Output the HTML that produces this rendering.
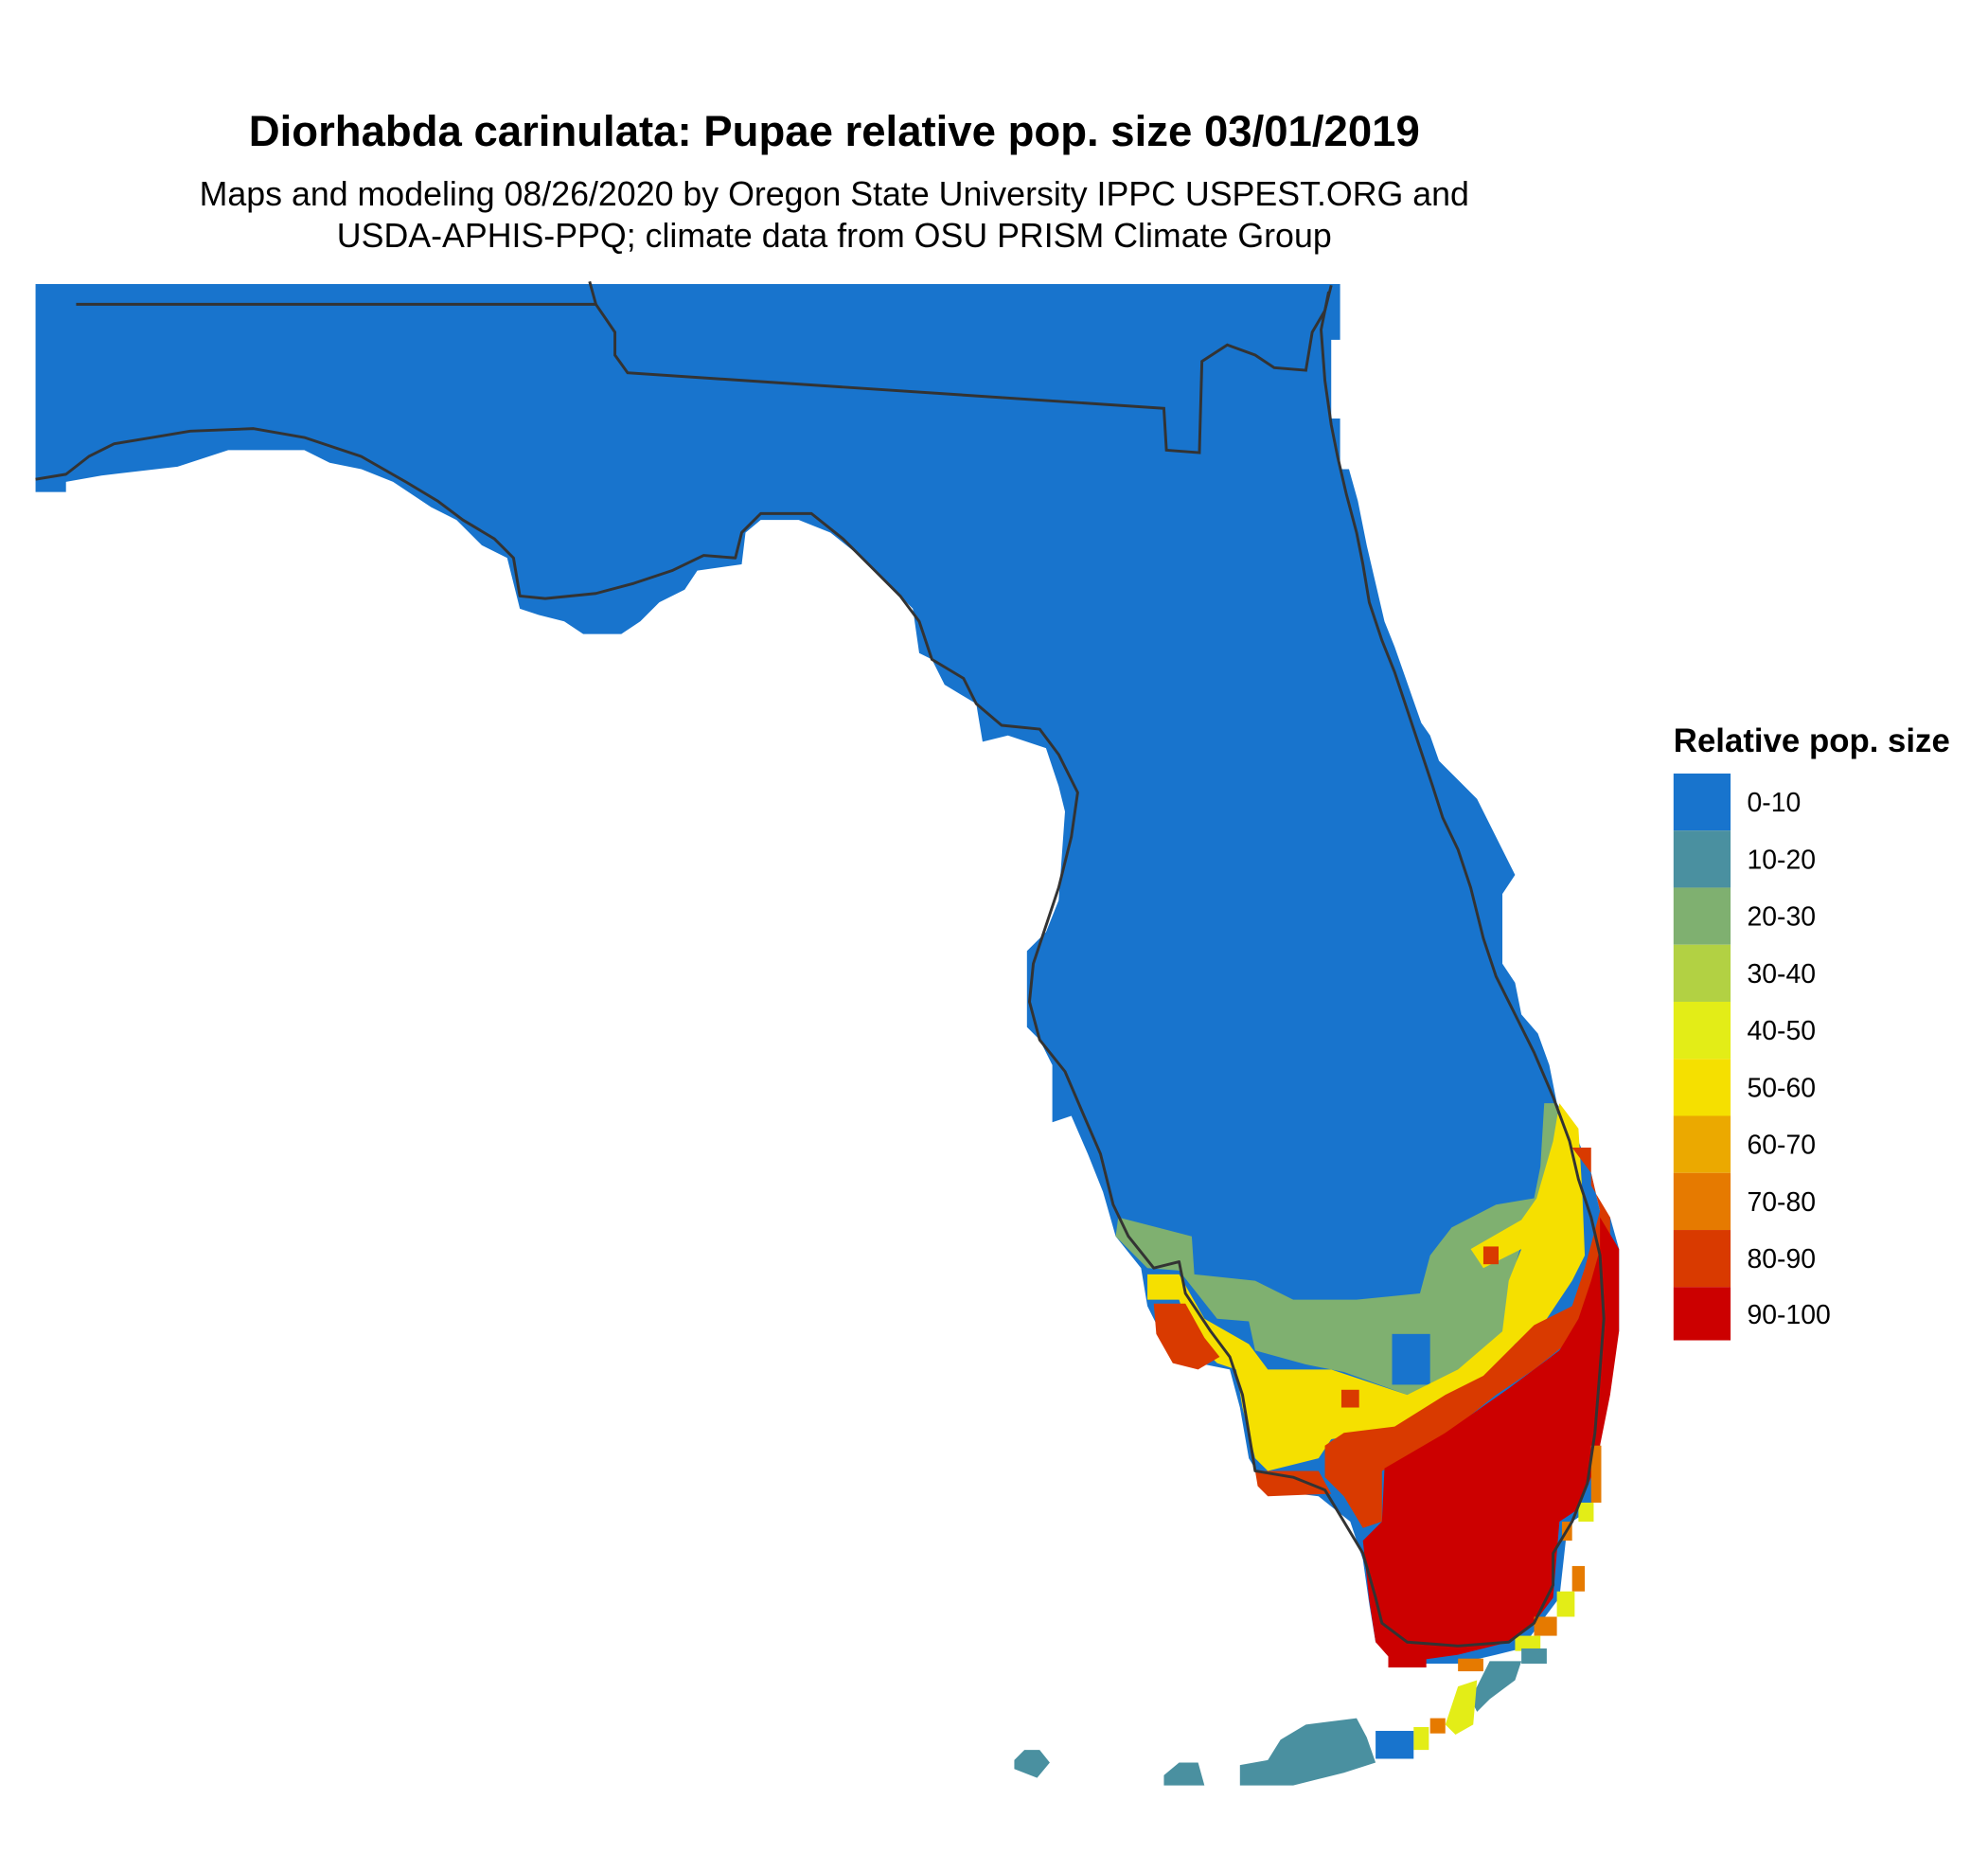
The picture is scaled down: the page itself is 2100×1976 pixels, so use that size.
<!DOCTYPE html>
<html><head><meta charset="utf-8"><style>
html,body{margin:0;padding:0;background:#fff;}
svg{display:block;}
text{font-family:"Liberation Sans",Arial,sans-serif;fill:#000;}
</style></head><body>
<svg width="2100" height="1976" viewBox="0 0 1568 1475.5" xmlns="http://www.w3.org/2000/svg">
<rect width="1568" height="1476" fill="#fff"/>
<text x="658" y="115" font-size="34" font-weight="bold" text-anchor="middle">Diorhabda carinulata: Pupae relative pop. size 03/01/2019</text>
<text x="658" y="162" font-size="26.7" text-anchor="middle">Maps and modeling 08/26/2020 by Oregon State University IPPC USPEST.ORG and</text>
<text x="658" y="195" font-size="26.7" text-anchor="middle">USDA-APHIS-PPQ; climate data from OSU PRISM Climate Group</text>

<polygon fill="#1874CD" points="28,224 1057,224 1057,268 1050,268 1050,330 1057,330 1057,370 1064,370 1071,395 1078,430 1085,460 1092,490 1100,510 1107,530 1114,550 1121,570 1128,580 1135,600 1150,615 1165,630 1180,660 1195,690 1185,705 1185,760 1195,775 1200,800 1213,815 1222,840 1228,870 1245,900 1255,925 1262,955 1270,960 1277,985 1277,1050 1270,1055 1270,1100 1262,1105 1262,1140 1255,1190 1240,1200 1235,1215 1230,1260 1215,1280 1200,1300 1180,1305 1150,1312 1115,1312 1095,1305 1085,1295 1080,1265 1075,1230 1065,1200 1040,1180 1000,1175 985,1150 978,1110 970,1080 945,1075 915,1050 905,1030 900,1000 880,975 870,940 858,910 845,880 830,885 830,840 820,820 810,810 810,750 825,735 835,710 840,640 835,620 825,590 795,580 775,585 770,555 745,540 735,520 725,515 720,480 700,460 680,440 655,420 630,410 600,410 588,420 585,445 550,450 540,465 520,475 505,490 490,500 460,500 445,490 425,485 410,480 400,440 380,430 360,410 340,400 310,380 285,370 260,365 240,355 180,355 140,368 80,375 52,380 52,388 28,388"/>

<polygon fill="#7FB070" points="1218,870 1228,870 1232,950 1205,962 1192,1010 1190,1045 1180,1060 1160,1085 1130,1092 1110,1100 1060,1082 1030,1076 990,1065 985,1042 960,1040 930,1002 905,1000 880,975 882,960 940,975 942,1005 990,1010 1020,1025 1070,1025 1120,1020 1128,990 1145,968 1180,950 1210,945 1215,920"/>
<rect x="1098" y="1052" width="30" height="40" fill="#1874CD"/>
<polygon fill="#F5E000" points="1230,870 1245,890 1248,940 1250,990 1240,1010 1220,1040 1195,1060 1170,1090 1140,1110 1130,1120 1090,1128 1050,1135 1040,1150 1000,1160 990,1150 980,1110 975,1080 960,1075 945,1060 935,1040 930,1025 905,1025 905,1005 930,1005 950,1040 985,1060 1000,1080 1050,1080 1110,1100 1150,1080 1185,1050 1190,1010 1200,985 1170,1000 1160,985 1200,962 1212,945 1225,900"/>
<rect x="1170" y="983" width="12" height="14" fill="#D93A00"/>
<rect x="1058" y="1096" width="14" height="14" fill="#D93A00"/>
<polygon fill="#D93A00" points="1240,905 1255,925 1262,955 1250,1000 1240,1030 1210,1045 1190,1065 1170,1085 1140,1100 1100,1125 1060,1130 1045,1140 1045,1165 1060,1180 1075,1205 1090,1200 1090,1160 1130,1140 1180,1100 1210,1080 1235,1060 1255,1020 1270,1000 1270,960 1255,935 1255,905"/>
<polygon fill="#D93A00" points="910,1028 935,1028 950,1055 962,1070 945,1080 925,1075 912,1052"/>
<polygon fill="#D93A00" points="990,1160 1040,1160 1050,1178 1000,1180 992,1172"/>
<polygon fill="#CC0000" points="1262,960 1277,985 1277,1050 1270,1100 1262,1140 1255,1165 1245,1190 1230,1200 1225,1260 1210,1280 1190,1295 1150,1305 1100,1312 1085,1295 1080,1262 1075,1215 1090,1200 1092,1158 1140,1130 1190,1095 1230,1065 1245,1040 1255,1010 1262,985"/>
<rect x="1255" y="1140" width="8" height="45" fill="#E67A00"/>
<rect x="1245" y="1185" width="12" height="15" fill="#E3ED17"/>
<rect x="1232" y="1200" width="8" height="15" fill="#E67A00"/>
<rect x="1240" y="1235" width="10" height="20" fill="#E67A00"/>
<rect x="1228" y="1255" width="14" height="20" fill="#E3ED17"/>
<rect x="1210" y="1275" width="18" height="15" fill="#E67A00"/>
<rect x="1195" y="1290" width="20" height="12" fill="#E3ED17"/>
<rect x="1200" y="1300" width="20" height="12" fill="#4A90A0"/>
<rect x="1095" y="1305" width="30" height="10" fill="#CC0000"/>
<rect x="1150" y="1308" width="20" height="10" fill="#E67A00"/>
<polygon fill="#4A90A0" points="1175,1310 1200,1310 1195,1325 1175,1340 1165,1350 1160,1340"/>
<polygon fill="#E3ED17" points="1150,1330 1165,1325 1162,1360 1148,1368 1140,1360"/>
<rect x="1128" y="1355" width="12" height="12" fill="#E67A00"/>
<rect x="1115" y="1362" width="12" height="18" fill="#E3ED17"/>
<rect x="1085" y="1365" width="30" height="22" fill="#1874CD"/>
<polygon fill="#4A90A0" points="1030,1360 1070,1355 1078,1370 1085,1390 1060,1398 1040,1403 1020,1408 978,1408 978,1392 1000,1388 1010,1372"/>
<polygon fill="#4A90A0" points="918,1400 930,1390 945,1390 950,1408 918,1408"/>
<polygon fill="#4A90A0" points="800,1388 808,1380 820,1380 828,1390 818,1402 800,1395"/>

<polyline fill="none" stroke="#333" stroke-width="2.2" points="60,240 470,240 465,222"/>
<polyline fill="none" stroke="#333" stroke-width="2.2" points="470,240 485,262 485,280 495,294 918,322 920,355 946,357 948,285 968,272 990,280 1005,290 1030,292 1035,262 1045,245 1050,225"/>
<polyline fill="none" stroke="#333" stroke-width="2.2" stroke-linejoin="round" points="28,378 52,374 70,360 90,350 120,345 150,340 200,338 240,345 285,360 320,380 345,395 365,410 390,425 405,440 410,470 430,472 470,468 500,460 530,450 555,438 580,440 585,420 600,405 640,405 665,425 690,450 710,470 725,490 735,520 760,535 770,555 790,572 820,575 835,595 850,625 845,660 835,700 825,730 815,760 812,790 820,820 840,845 855,880 868,910 878,950 890,975 910,1000 930,995 935,1020 955,1050 970,1070 980,1100 985,1130 990,1160 1020,1165 1045,1175 1060,1200 1075,1225 1085,1260 1090,1280 1110,1295 1150,1298 1190,1295 1210,1280 1225,1250 1225,1225 1240,1200 1252,1170 1258,1130 1262,1080 1265,1040 1262,990 1255,960 1245,930 1238,900 1225,865 1210,830 1195,800 1180,770 1170,740 1160,700 1150,670 1138,645 1130,620 1120,590 1110,560 1100,530 1090,505 1080,475 1075,445 1070,420 1062,390 1055,360 1050,335 1045,300 1042,260 1048,230"/>

<text x="1320" y="593" font-size="26" font-weight="bold">Relative pop. size</text>
<rect x="1320" y="610" width="45" height="45" fill="#1874CD"/>
<rect x="1320" y="655" width="45" height="45" fill="#4A90A0"/>
<rect x="1320" y="700" width="45" height="45" fill="#7FB070"/>
<rect x="1320" y="745" width="45" height="45" fill="#B2D143"/>
<rect x="1320" y="790" width="45" height="45" fill="#E3ED17"/>
<rect x="1320" y="835" width="45" height="45" fill="#F5E000"/>
<rect x="1320" y="880" width="45" height="45" fill="#EBA900"/>
<rect x="1320" y="925" width="45" height="45" fill="#E67A00"/>
<rect x="1320" y="970" width="45" height="45" fill="#D93A00"/>
<rect x="1320" y="1015" width="45" height="42" fill="#CC0000"/>
<g font-size="21.2">
<text x="1378" y="640">0-10</text>
<text x="1378" y="685">10-20</text>
<text x="1378" y="730">20-30</text>
<text x="1378" y="775">30-40</text>
<text x="1378" y="820">40-50</text>
<text x="1378" y="865">50-60</text>
<text x="1378" y="910">60-70</text>
<text x="1378" y="955">70-80</text>
<text x="1378" y="1000">80-90</text>
<text x="1378" y="1044">90-100</text>
</g>
</svg>
</body></html>
